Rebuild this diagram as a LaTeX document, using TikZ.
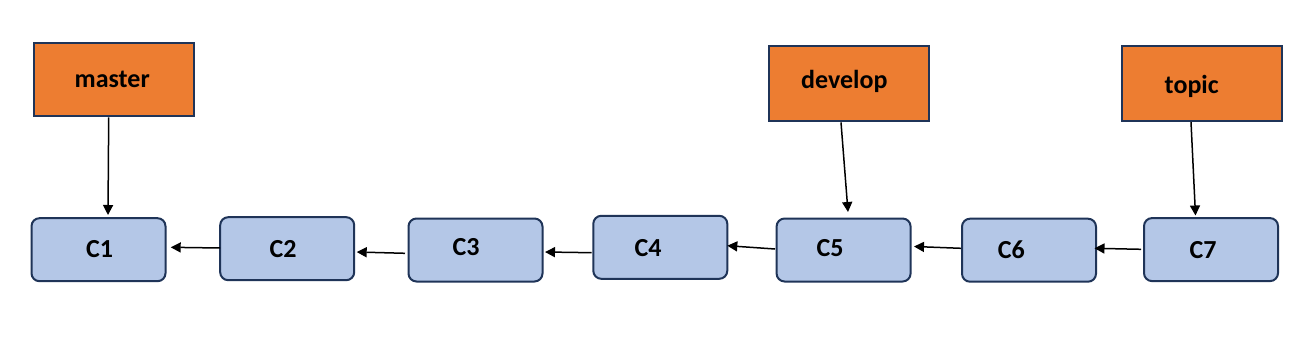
\documentclass[tikz,border=0pt]{standalone}
\usepackage{fontspec}
\setmainfont{Carlito}
\usetikzlibrary{arrows.meta}
\definecolor{brorange}{HTML}{ED7D31}
\definecolor{cmblue}{HTML}{B4C7E7}
\definecolor{navy}{HTML}{1F3458}
\tikzset{
  commitbox/.style={draw=navy, fill=cmblue, line width=2pt, rounded corners=8pt,
    minimum width=134, minimum height=63, inner sep=0, outer sep=0},
  branchbox/.style={draw=navy, fill=brorange, line width=2pt,
    minimum width=160, inner sep=0, outer sep=0},
  lbl/.style={anchor=base, inner sep=0, font=\fontsize{26}{30}\selectfont\bfseries},
  arr/.style={-{Triangle[length=10pt,width=10pt]}, line width=1.5pt, black},
}
\begin{document}
\begin{tikzpicture}[x=1pt,y=-1pt]
\useasboundingbox (0,0) rectangle (1312,345);
\fill[white] (0,0) rectangle (1312,345);
% commit boxes
\node[commitbox] (c1) at (98.5,249.7) {};
\node[commitbox] (c2) at (287.2,248.7) {};
\node[commitbox] (c3) at (475.5,250) {};
\node[commitbox] (c4) at (660.3,247.3) {};
\node[commitbox] (c5) at (843.6,250) {};
\node[commitbox] (c6) at (1029,250.2) {};
\node[commitbox] (c7) at (1211,249.6) {};
% branch boxes
\node[branchbox, minimum height=73.3] (master) at (114.2,79.7) {};
\node[branchbox, minimum height=75.5] (develop) at (848.7,83.3) {};
\node[branchbox, minimum height=75.5] (topic) at (1202,83.3) {};
% labels
\node[lbl] (t1) at (99.7,257.7) {C1};
\node[lbl] (t2) at (283,257.7) {C2};
\node[lbl] (t3) at (466,255) {C3};
\node[lbl] (t4) at (648,256) {C4};
\node[lbl] (t5) at (830.2,256.9) {C5};
\node[lbl] (t6) at (1011.4,258.6) {C6};
\node[lbl] (t7) at (1203,258) {C7};
\node[lbl] (tm) at (112.2,87.3) {master};
\node[lbl] (td) at (844.3,88.6) {develop};
\node[lbl] (tt) at (1191.7,93.8) {topic};
% connectors
\draw[arr] ([shift={(-5.5,1)}]master.south) -- ([shift={(9.5,-3.2)}]c1.north);
\draw[arr] ([shift={(0,-0.7)}]c2.west) -- ([shift={(5.2,-2.4)}]c1.east);
\draw[arr] ([shift={(-3.5,3.3)}]c3.west) -- ([shift={(2.5,3.3)}]c2.east);
\draw[arr] ([shift={(-1.6,5.4)}]c4.west) -- ([shift={(2.5,2)}]c3.east);
\draw[arr] ([shift={(-1.6,-1)}]c5.west) -- ([shift={(0,-1.6)}]c4.east);
\draw[arr] ([shift={(-1,-1.9)}]c6.west) -- ([shift={(3.4,-3.5)}]c5.east);
\draw[arr] ([shift={(-3,-0.3)}]c7.west) -- ([shift={(-1.5,-1.9)}]c6.east);
\draw[arr] ([shift={(-7.7,1.3)}]develop.south) -- ([shift={(4.4,-6.5)}]c5.north);
\draw[arr] ([shift={(-11,1)}]topic.south) -- ([shift={(-15.5,-2.6)}]c7.north);
\end{tikzpicture}
\end{document}
